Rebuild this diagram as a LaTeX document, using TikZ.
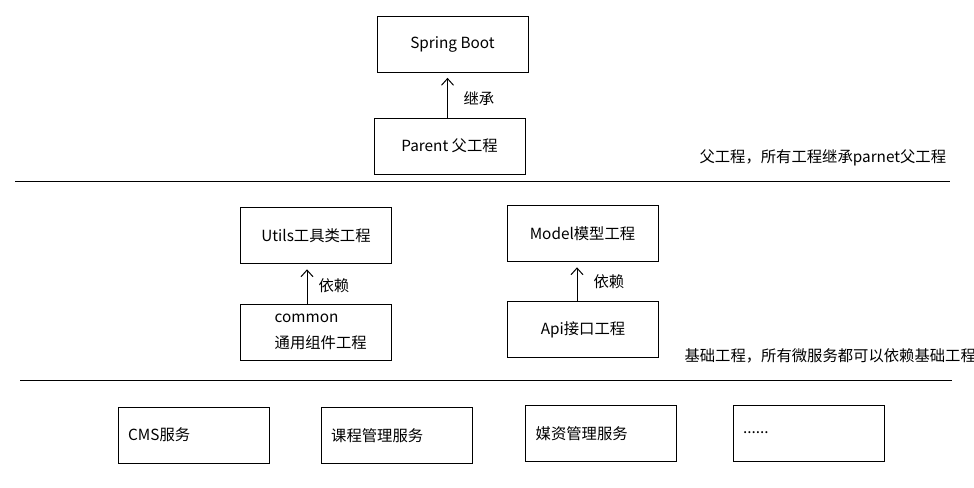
\documentclass[tikz,border=0pt]{standalone}
\usepackage{fontspec}
\setmainfont{Noto Sans CJK SC}
\usetikzlibrary{arrows.meta}

\tikzset{every picture/.style={line width=0.75pt}}
\tikzset{
  proj/.style={draw, minimum width=113.25pt, minimum height=42pt, inner sep=0.75pt, font=\fontsize{11.5}{14}\selectfont},
  svc/.style={proj, inner xsep=7.5pt, text width=98pt, align=left},
  note/.style={anchor=west, inner sep=0.75pt, font=\fontsize{11.5}{14}\selectfont},
  dep/.style={-{Straight Barb[length=5pt,width=9pt]}, shorten >=4pt}
}

\begin{document}
\begin{tikzpicture}[x=0.75pt,y=0.75pt,yscale=-1,xscale=1]
%set diagram left start at 0, and has height of 487
\path[use as bounding box] (0,0) rectangle (974,487);

%Shape: Rectangle
\node[proj] (spring) at (452.5,44) {Spring Boot};
%Shape: Rectangle
\node[proj] (parent) at (449.5,146) {Parent 父工程};
%Shape: Rectangle
\node[proj] (utils) at (316,235.5) {Utils工具类工程};
%Shape: Rectangle
\node[proj, inner xsep=21.5pt, text width=70pt, align=left, font=\fontsize{11.5}{20}\selectfont] (common) at (316,332) {\hspace*{4pt}common\\\hspace*{4pt}通用组件工程};
%Shape: Rectangle
\node[proj] (model) at (582.5,233.5) {Model模型工程};
%Shape: Rectangle
\node[proj] (api) at (583,329.5) {Api接口工程};
%Shape: Rectangle
\node[svc] (cms) at (193.5,435) {CMS服务};
%Shape: Rectangle
\node[svc] (course) at (396.5,435.5) {课程管理服务};
%Shape: Rectangle
\node[svc] (media) at (601,433.5) {媒资管理服务};
%Shape: Rectangle
\node[svc] (more) at (808.5,433) {......};

%Straight Lines
\draw[dep] ([xshift=-1.5pt]parent.north) -- ([xshift=-1.5pt]parent.north |- spring.south);
%Straight Lines
\draw[dep] ([xshift=-6.75pt]common.north) -- ([xshift=-6.75pt]common.north |- utils.south);
%Straight Lines
\draw[dep] ([xshift=-4.5pt]api.north) -- ([xshift=-4.5pt]api.north |- model.south);
%Straight Lines
\draw    (15,181) -- (950,181) ;
%Straight Lines
\draw    (20,380) -- (952,380) ;

% Text Node
\node[note] (inherit) at (462,99) {继承};
% Text Node
\node[note] (relyutils) at (317,286) {依赖};
% Text Node
\node[note] (relymodel) at (592,282) {依赖};
% Text Node
\node[note] (parentnote) at (698,158) {父工程，所有工程继承parnet父工程};
% Text Node
\node[note] (basenote) at (683,356) {基础工程，所有微服务都可以依赖基础工程};

\end{tikzpicture}
\end{document}
